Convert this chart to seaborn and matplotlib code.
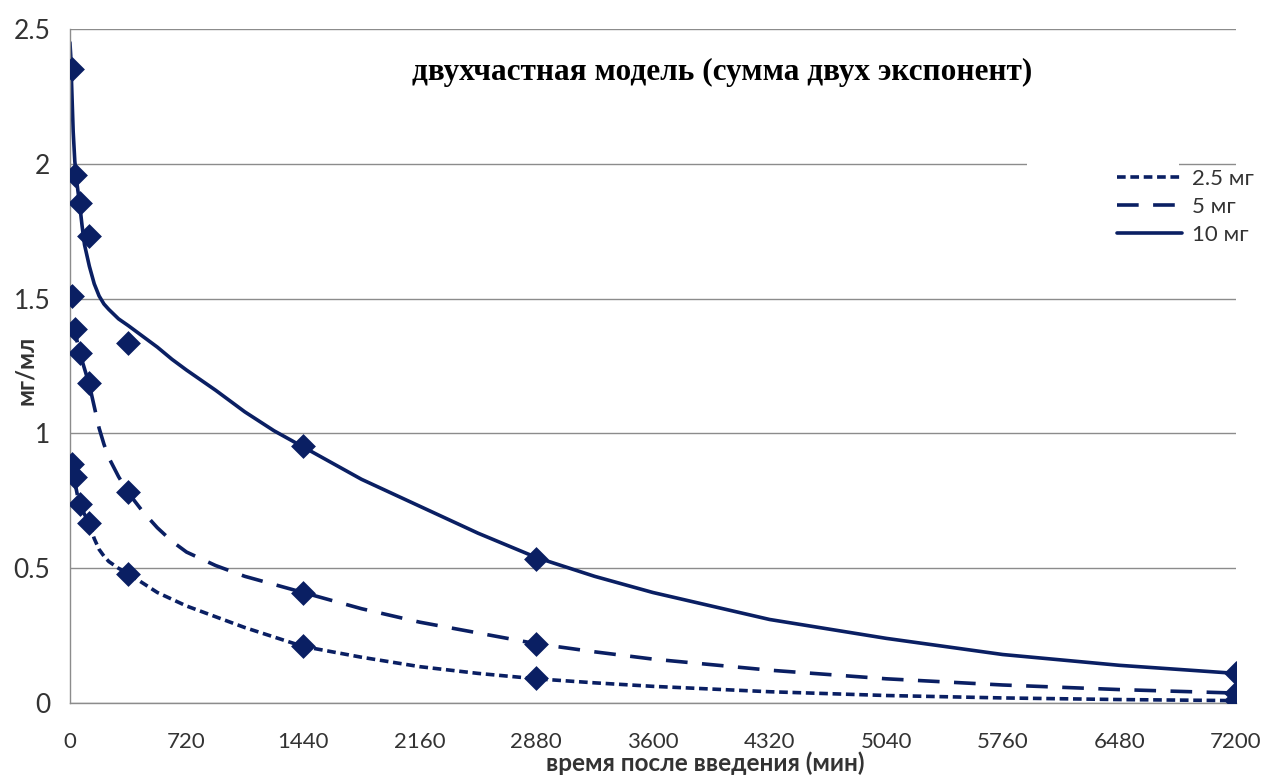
import numpy as np
import pandas as pd
import matplotlib
matplotlib.use("Agg")
import matplotlib.pyplot as plt
import seaborn as sns
from matplotlib.lines import Line2D
from matplotlib.patches import Rectangle

# ---- data ----
series_names = ["2.5 мг", "5 мг", "10 мг"]

# measured points (time in min)
point_times = [10, 30, 60, 120, 360, 1440, 2880, 7200]
points_2_5 = [0.886, 0.838, 0.738, 0.668, 0.478, 0.211, 0.093, 0.011]
points_5 = [1.51, 1.387, 1.298, 1.187, 0.783, 0.408, 0.219, 0.037]
points_10 = [2.35, 1.958, 1.855, 1.732, 1.335, 0.953, 0.534, 0.111]

# model curves, values
curve_times = [0, 5, 10, 20, 30, 45, 60, 75, 90, 120, 150, 180, 210, 240,
               300, 360, 450, 540, 630, 720, 900, 1080, 1260, 1440, 1800,
               2160, 2520, 2880, 3240, 3600, 4320, 5040, 5760, 6480, 7200]
curve_2_5 = [0.90, 0.885, 0.87, 0.85, 0.82, 0.775, 0.74, 0.72, 0.70, 0.665,
             0.61, 0.57, 0.545, 0.525, 0.50, 0.48, 0.445, 0.41, 0.385, 0.36,
             0.32, 0.28, 0.245, 0.21, 0.17, 0.135, 0.11, 0.09, 0.075, 0.062,
             0.042, 0.028, 0.019, 0.013, 0.009]
curve_5 = [1.55, 1.52, 1.49, 1.43, 1.39, 1.34, 1.30, 1.27, 1.24, 1.18,
           1.10, 1.02, 0.96, 0.91, 0.84, 0.78, 0.71, 0.65, 0.60, 0.56,
           0.51, 0.47, 0.44, 0.41, 0.35, 0.30, 0.26, 0.22, 0.19, 0.163,
           0.122, 0.09, 0.067, 0.05, 0.037]
curve_10 = [2.45, 2.40, 2.30, 2.12, 2.01, 1.92, 1.85, 1.77, 1.70, 1.62,
            1.555, 1.51, 1.48, 1.46, 1.425, 1.40, 1.36, 1.32, 1.275, 1.235,
            1.16, 1.08, 1.01, 0.95, 0.83, 0.73, 0.63, 0.54, 0.47, 0.41,
            0.31, 0.24, 0.18, 0.14, 0.11]

x_ticks = [0, 720, 1440, 2160, 2880, 3600, 4320, 5040, 5760, 6480, 7200]
y_ticks = [0, 0.5, 1, 1.5, 2, 2.5]
y_tick_labels = ["0", "0.5", "1", "1.5", "2", "2.5"]

title_text = "двухчастная модель (сумма двух экспонент)"
x_label = "время после введения (мин)"
y_label = "мг/мл"

# ---- frames ----
curves = pd.concat([
    pd.DataFrame({"t": curve_times, "c": curve_2_5, "s": series_names[0]}),
    pd.DataFrame({"t": curve_times, "c": curve_5, "s": series_names[1]}),
    pd.DataFrame({"t": curve_times, "c": curve_10, "s": series_names[2]}),
])
points = pd.concat([
    pd.DataFrame({"t": point_times, "c": points_2_5, "s": series_names[0]}),
    pd.DataFrame({"t": point_times, "c": points_5, "s": series_names[1]}),
    pd.DataFrame({"t": point_times, "c": points_10, "s": series_names[2]}),
])

sns.set_theme(style="white")
plt.rcParams["font.family"] = ["Lato", "DejaVu Sans"]

navy = "#0A1F63"
grid_c = "#8C8C8C"
text_c = "#333333"
lw = 2.6

fig = plt.figure(figsize=(12.67, 7.76), dpi=100)
ax = fig.add_axes([0.0552, 0.094, 0.9203, 0.8686])

dashes = {series_names[0]: (2.4, 1.3), series_names[1]: (6.0, 4.0), series_names[2]: ""}
sns.lineplot(data=curves, x="t", y="c", hue="s", style="s",
             palette=[navy] * 3, dashes=dashes, linewidth=lw,
             legend=False, ax=ax, sort=True, estimator=None)
sns.scatterplot(data=points, x="t", y="c", color=navy, marker="D", s=160,
                edgecolor=navy, linewidth=0, legend=False, ax=ax, zorder=5)

ax.set_xlim(0, 7200)
ax.set_ylim(0, 2.5)
ax.set_xticks(x_ticks)
ax.set_xticklabels([str(v) for v in x_ticks])
ax.set_yticks(y_ticks)
ax.set_yticklabels(y_tick_labels)
ax.grid(axis="y", color=grid_c, linewidth=1)
ax.grid(axis="x", visible=False)
ax.set_axisbelow(True)
for sp in ["top", "right"]:
    ax.spines[sp].set_visible(False)
for sp in ["left", "bottom"]:
    ax.spines[sp].set_color(grid_c)
    ax.spines[sp].set_linewidth(1)
ax.tick_params(axis="both", which="major", direction="out", length=6,
               width=1, color=grid_c, labelcolor=text_c)
ax.tick_params(axis="x", pad=15, labelsize=16)
ax.tick_params(axis="y", pad=8, labelsize=19)
ax.set_xlabel(x_label, fontsize=17.5, fontweight="bold", color=text_c, va="center")
ax.xaxis.set_label_coords(0.545, -0.089)
ax.set_ylabel(y_label, fontsize=17, fontweight="bold", color=text_c, va="center")
ax.yaxis.set_label_coords(-0.038, 0.494)

ax.text(0.559, 0.936, title_text, transform=ax.transAxes, ha="center", va="center",
        fontsize=22.5, fontweight="bold", family=["Liberation Serif", "DejaVu Serif"],
        color="black")

# white area behind the legend (breaks the gridline as in the reference)
ax.add_patch(Rectangle((0.821, 0.775), 0.13, 0.06, transform=ax.transAxes,
                       facecolor="white", edgecolor="none", zorder=1.5))

handles = [Line2D([0], [0], color=navy, linewidth=lw, dashes=dashes[n])
           if dashes[n] else Line2D([0], [0], color=navy, linewidth=lw)
           for n in series_names]
leg = ax.legend(handles, series_names, loc="upper left", bbox_to_anchor=(0.885, 0.815),
                frameon=False, fontsize=16, handlelength=2.9, labelspacing=0.35,
                handletextpad=0.45, borderpad=0.2)
for t in leg.get_texts():
    t.set_color(text_c)

fig.savefig("out.png", dpi=100)
